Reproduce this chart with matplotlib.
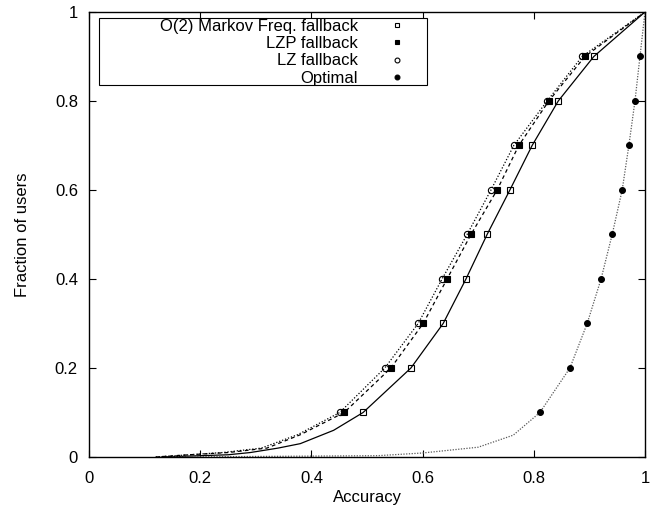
import matplotlib
matplotlib.use("Agg")
import matplotlib.pyplot as plt
from matplotlib.patches import Rectangle
import numpy as np

plt.rcParams['font.family'] = ['Liberation Sans', 'DejaVu Sans']

# CDF of accuracy per user: fraction of users (y) vs accuracy (x)
frac = [0.0, 0.005, 0.01, 0.02, 0.05, 0.1, 0.2, 0.3, 0.4, 0.5, 0.6, 0.7, 0.8, 0.9, 1.0]
frac_markov = [0.0, 0.005, 0.01, 0.02, 0.03, 0.06, 0.1, 0.2, 0.3, 0.4, 0.5, 0.6, 0.7, 0.8, 0.9, 1.0]
frac_opt = [0.0, 0.003, 0.009, 0.022, 0.049, 0.1, 0.2, 0.3, 0.4, 0.5, 0.6, 0.7, 0.8, 0.9, 1.0]

acc_markov = [0.13, 0.25, 0.29, 0.34, 0.38, 0.44, 0.493, 0.579, 0.637, 0.678, 0.716, 0.757, 0.797, 0.844, 0.908, 1.0]
acc_lzp = [0.12, 0.18, 0.25, 0.32, 0.38, 0.459, 0.543, 0.601, 0.644, 0.687, 0.734, 0.773, 0.827, 0.892, 1.0]
acc_lz = [0.12, 0.18, 0.24, 0.31, 0.375, 0.451, 0.532, 0.592, 0.635, 0.680, 0.723, 0.764, 0.824, 0.887, 1.0]
acc_opt = [0.15, 0.52, 0.60, 0.70, 0.763, 0.811, 0.865, 0.896, 0.921, 0.941, 0.959, 0.971, 0.982, 0.991, 1.0]

labels = ['O(2) Markov Freq. fallback', 'LZP fallback', 'LZ fallback', 'Optimal']

fig = plt.figure(figsize=(6.56, 5.08), dpi=100)
ax = fig.add_axes([0.1357, 0.1004, 0.8475, 0.876])

series = [
    (acc_markov, frac_markov, '-', 'k', 's', 'none', 5),
    (acc_lzp, frac, (0, (3, 2.5)), 'k', 's', 'k', 5),
    (acc_lz, frac, (0, (1, 1.5)), 'k', 'o', 'none', 4.5),
    (acc_opt, frac_opt, (0, (1, 1.2)), '0.35', 'o', 'k', 4.2),
]

handles = []
for (x, y, ls, col, mk, mfc, ms), lab in zip(series, labels):
    x = np.array(x)
    y = np.array(y)
    ax.plot(x, y, linestyle=ls, color=col, lw=0.9)
    sel = (y >= 0.09) & (y <= 0.91)
    h, = ax.plot(x[sel], y[sel], linestyle='none', marker=mk, markersize=ms,
                 markerfacecolor=mfc, markeredgecolor='k', markeredgewidth=0.8,
                 label=lab)
    handles.append(h)

ax.set_xlim(0, 1)
ax.set_ylim(0, 1)
ax.set_xticks([0, 0.2, 0.4, 0.6, 0.8, 1])
ax.set_xticklabels(['0', '0.2', '0.4', '0.6', '0.8', '1'])
ax.set_yticks([0, 0.2, 0.4, 0.6, 0.8, 1])
ax.set_yticklabels(['0', '0.2', '0.4', '0.6', '0.8', '1'])
ax.tick_params(direction='in', top=True, right=True, length=5, width=0.8,
               labelsize=12, pad=8)
ax.tick_params(axis='x', pad=10)
for s in ax.spines.values():
    s.set_linewidth(1.0)

ax.set_xlabel('Accuracy', fontsize=12, labelpad=3)
ax.set_ylabel('Fraction of users', fontsize=12, labelpad=18)

# key box like gnuplot: wide frame, right-aligned labels
ax.add_patch(Rectangle((0.018, 0.836), 0.59, 0.1505, transform=ax.transAxes,
                       facecolor='white', edgecolor='k', lw=0.8, zorder=4))
leg = ax.legend(handles=handles, loc='upper right', markerfirst=False,
                bbox_to_anchor=(0.578, 0.9865), borderaxespad=0, fontsize=12,
                frameon=False, labelspacing=0.14, handletextpad=1.6,
                handlelength=1.5, borderpad=0.05)
leg.set_zorder(5)
for h in leg.legend_handles:
    h.set_markersize(3.5)

fig.savefig('out.png', dpi=100)
